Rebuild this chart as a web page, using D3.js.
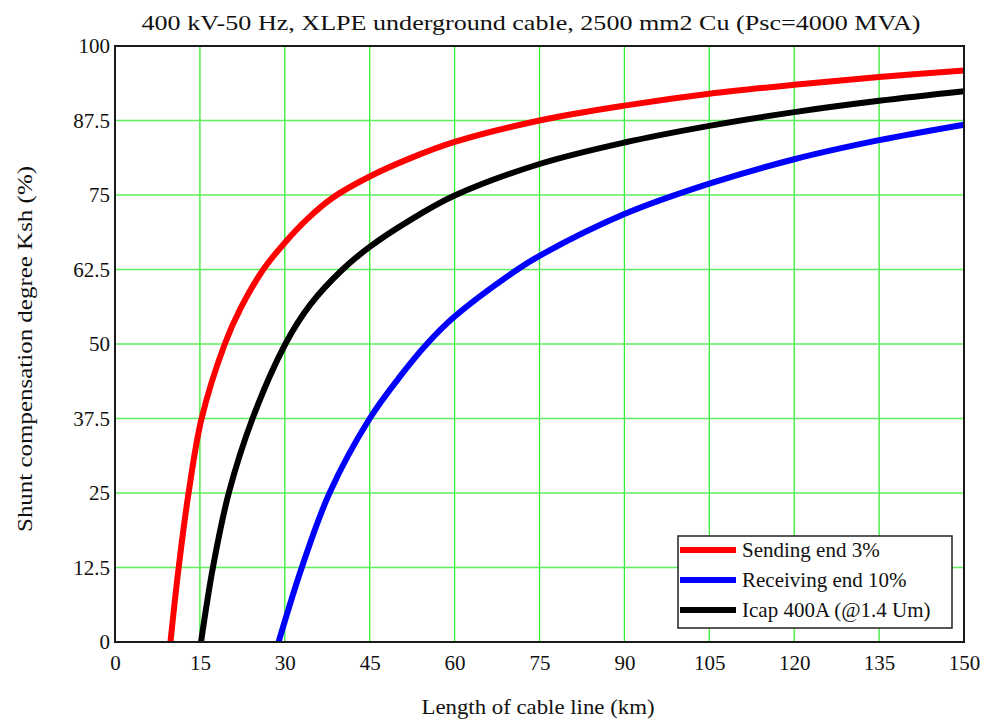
<!DOCTYPE html>
<html>
<head>
<meta charset="utf-8">
<script src="https://cdn.jsdelivr.net/npm/d3@7"></script>
<style>
  body { margin: 0; background: #fff; }
  text { font-family: "Liberation Serif", "Times New Roman", serif; fill: #111; }
</style>
</head>
<body>
<div id="vis"></div>
<script>
const WIDTH = 986;
const HEIGHT = 726;
const MARGIN = { top: 46, right: 22, bottom: 84, left: 115 };

// valores (km, %)
const sendingKm  = [9.8, 11.25, 13.0, 15.3, 19.4, 22.2, 26.2, 30, 34, 38.4, 45, 52, 60, 75, 90, 105, 120, 135, 150];
const sendingPct = [0, 12.5, 25, 37.5, 50, 56.0, 62.5, 67.0, 71.0, 74.5, 78.1, 81.1, 83.9, 87.5, 90.0, 92.0, 93.5, 94.8, 95.9];

const receivingKm  = [28.9, 33.0, 37.9, 45.0, 50.4, 55.1, 60, 71.1, 75, 90, 105, 120, 135, 150];
const receivingPct = [0, 12.5, 25, 37.5, 44.6, 50, 54.6, 62.5, 64.8, 71.8, 76.9, 81.0, 84.2, 86.8];

const icapKm  = [15.2, 17.3, 20.1, 24.3, 30.1, 34.5, 40.2, 45, 52, 60, 75, 90, 105, 120, 135, 150];
const icapPct = [0, 12.5, 25, 37.5, 50, 56.6, 62.5, 66.3, 70.7, 74.9, 80.2, 83.8, 86.6, 88.9, 90.8, 92.4];

const xTicks = [0, 15, 30, 45, 60, 75, 90, 105, 120, 135, 150];
const yTicks = [0, 12.5, 25, 37.5, 50, 62.5, 75, 87.5, 100];

const seriesNames = ["Sending end 3%", "Receiving end 10%", "Icap 400A (@1.4 Um)"];
const seriesColors = ["#ff0000", "#0000ff", "#000000"];

const series = [
  { name: seriesNames[0], color: seriesColors[0], pts: sendingKm.map((k, i) => [k, sendingPct[i]]) },
  { name: seriesNames[1], color: seriesColors[1], pts: receivingKm.map((k, i) => [k, receivingPct[i]]) },
  { name: seriesNames[2], color: seriesColors[2], pts: icapKm.map((k, i) => [k, icapPct[i]]) },
];

const W = WIDTH - MARGIN.left - MARGIN.right;
const H = HEIGHT - MARGIN.top - MARGIN.bottom;

const svg = d3.select("#vis").append("svg")
  .attr("width", WIDTH)
  .attr("height", HEIGHT);

const g = svg.append("g").attr("transform", `translate(${MARGIN.left},${MARGIN.top})`);

const x = d3.scaleLinear().domain([0, 150]).range([0, W]);
const y = d3.scaleLinear().domain([0, 100]).range([H, 0]);

// rejilla
g.append("g").selectAll("line")
  .data(xTicks)
  .join("line")
  .attr("x1", d => x(d)).attr("x2", d => x(d))
  .attr("y1", 0).attr("y2", H)
  .attr("stroke", "#33ee33").attr("stroke-width", 1.3);

g.append("g").selectAll("line")
  .data(yTicks)
  .join("line")
  .attr("x1", 0).attr("x2", W)
  .attr("y1", d => y(d)).attr("y2", d => y(d))
  .attr("stroke", "#5cf05c").attr("stroke-width", 1.6);

// ejes
const xAxis = g.append("g")
  .attr("transform", `translate(0,${H})`)
  .call(d3.axisBottom(x).tickValues(xTicks).tickSize(0).tickPadding(13).tickFormat(d3.format("d")));
const yAxis = g.append("g")
  .call(d3.axisLeft(y).tickValues(yTicks).tickSize(0).tickPadding(5).tickFormat(d => String(d)));

[xAxis, yAxis].forEach(a => {
  a.select(".domain").remove();
  a.selectAll("text").style("font-size", "21px").style("font-family", "Liberation Serif").attr("fill", "#111");
});

// curvas
const line = d3.line()
  .x(d => x(d[0]))
  .y(d => y(d[1]))
  .curve(d3.curveCatmullRom.alpha(0.5));

g.append("g").selectAll("path")
  .data(series)
  .join("path")
  .attr("d", d => line(d.pts))
  .attr("fill", "none")
  .attr("stroke", d => d.color)
  .attr("stroke-width", 6)
  .attr("stroke-linejoin", "round");

// marco
g.append("rect")
  .attr("x", 0).attr("y", 0)
  .attr("width", W).attr("height", H)
  .attr("fill", "none")
  .attr("stroke", "#1a1a1a")
  .attr("stroke-width", 2);

// leyenda
const legend = svg.append("g").attr("transform", "translate(678,536)");
legend.append("rect")
  .attr("width", 274).attr("height", 92)
  .attr("fill", "#fff")
  .attr("stroke", "#222")
  .attr("stroke-width", 1.5);

const items = legend.selectAll("g.item")
  .data(series)
  .join("g")
  .attr("class", "item")
  .attr("transform", (d, i) => `translate(0,${14 + i * 30})`);

items.append("line")
  .attr("x1", 2).attr("x2", 58)
  .attr("y1", 0).attr("y2", 0)
  .attr("stroke", d => d.color)
  .attr("stroke-width", 6);

items.append("text")
  .attr("x", 64)
  .attr("y", 7)
  .style("font-size", "21px")
  .text(d => d.name);

// titulos
svg.append("text")
  .attr("x", 531).attr("y", 30)
  .attr("text-anchor", "middle")
  .attr("textLength", 779)
  .attr("lengthAdjust", "spacingAndGlyphs")
  .style("font-size", "22px")
  .text("400 kV-50 Hz, XLPE underground cable, 2500 mm2 Cu (Psc=4000 MVA)");

svg.append("text")
  .attr("x", 538).attr("y", 714)
  .attr("text-anchor", "middle")
  .attr("textLength", 233)
  .attr("lengthAdjust", "spacingAndGlyphs")
  .style("font-size", "21px")
  .text("Length of cable line  (km)");

svg.append("text")
  .attr("transform", "translate(32,349) rotate(-90)")
  .attr("text-anchor", "middle")
  .attr("textLength", 366)
  .attr("lengthAdjust", "spacingAndGlyphs")
  .style("font-size", "21px")
  .text("Shunt compensation degree  Ksh (%)");
</script>
</body>
</html>
